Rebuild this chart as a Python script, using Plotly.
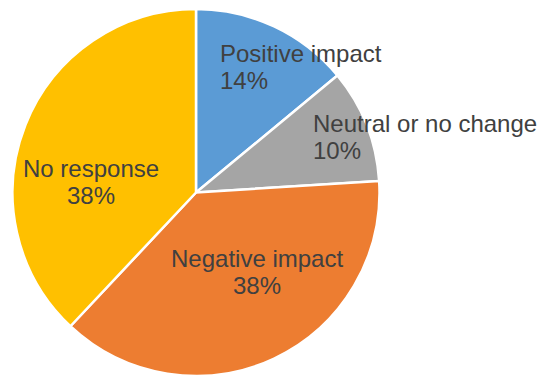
import plotly.graph_objects as go

# ---- data ----
categories = ["Positive impact", "Neutral or no change", "Negative impact", "No response"]
values = [14, 10, 38, 38]
colors = ["#5B9BD5", "#A5A5A5", "#ED7D31", "#FFC000"]

W, H = 539, 376
# pie geometry (pixels)
cx, cy, r = 196, 192.5, 183.5

# label placement (pixel position of block, anchor, align) -- layout only
label_pos = [
    (218, 53.5, "left"),
    (311, 123.5, "left"),
    (257, 258.5, "center"),
    (90.5, 168.5, "center"),
]
line_gap = 26.7

fig = go.Figure()
fig.add_trace(go.Pie(
    labels=categories,
    values=values,
    sort=False,
    direction="clockwise",
    rotation=0,
    marker=dict(colors=colors, line=dict(color="white", width=2.5)),
    textinfo="none",
    hoverinfo="label+percent",
    showlegend=False,
    domain=dict(x=[(cx - r) / W, (cx + r) / W], y=[1 - (cy + r) / H, 1 - (cy - r) / H]),
))

total = sum(values)
font = dict(family="Arial, Liberation Sans, sans-serif", size=24, color="#404040")
for cat, val, (px, py, al) in zip(categories, values, label_pos):
    pct = f"{round(100 * val / total)}%"
    for i, t in enumerate([cat, pct]):
        fig.add_annotation(
            x=px / W, y=1 - (py + i * line_gap) / H,
            xref="paper", yref="paper",
            text=t, showarrow=False,
            xanchor=al, yanchor="middle", align=al,
            font=font,
        )

fig.update_layout(
    width=W, height=H,
    margin=dict(l=0, r=0, t=0, b=0),
    paper_bgcolor="white", plot_bgcolor="white",
)
fig.write_html("out.html")
